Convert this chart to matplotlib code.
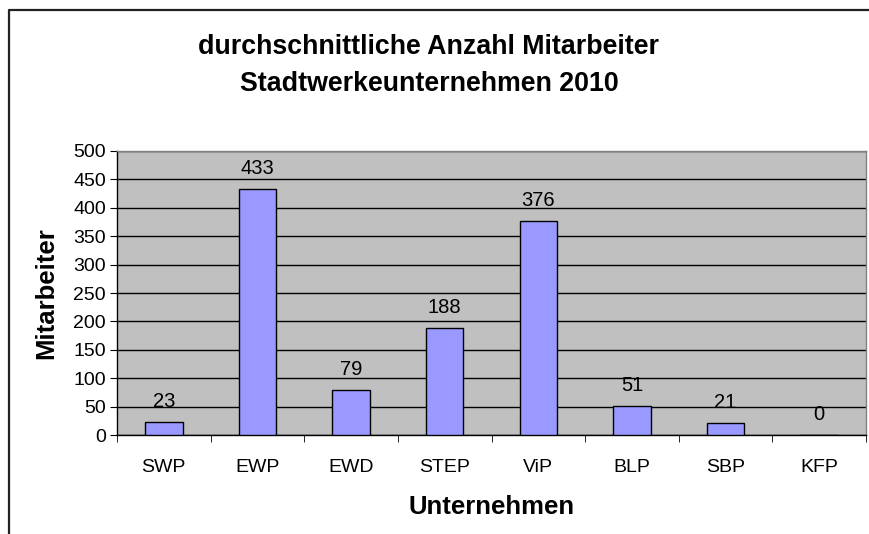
import matplotlib
matplotlib.use("Agg")
import matplotlib.pyplot as plt
from matplotlib.lines import Line2D

categories = ["SWP", "EWP", "EWD", "STEP", "ViP", "BLP", "SBP", "KFP"]
values = [23, 433, 79, 188, 376, 51, 21, 0]
yticks = [0, 50, 100, 150, 200, 250, 300, 350, 400, 450, 500]

W, H = 869, 534
fig = plt.figure(figsize=(W / 100, H / 100), dpi=100)
plt.rcParams['font.family'] = ['Liberation Sans', 'DejaVu Sans']

ax = fig.add_axes([117 / W, 1 - 435 / H, (866 - 117) / W, (435 - 151) / H])
ax.set_facecolor('#C0C0C0')
x = list(range(len(categories)))
ax.bar(x, values, width=0.4, color='#9999FF', edgecolor='black', linewidth=1, zorder=3)
for xi, v in zip(x, values):
    ax.annotate(str(v), (xi, v), xytext=(0, 8), textcoords='offset points',
                ha='center', va='bottom', fontsize=14.5, color='black', zorder=4)

ax.set_xlim(-0.5, len(categories) - 0.5)
ax.set_ylim(0, 500)
ax.set_yticks(yticks)
ax.set_yticklabels([str(t) for t in yticks], fontsize=14)
ax.yaxis.grid(True, color='black', linewidth=1, zorder=0)
ax.set_axisbelow(True)
ax.set_xticks(x)
ax.set_xticklabels(categories, fontsize=14)
ax.tick_params(axis='x', length=0, pad=17)
ax.set_xticks([i - 0.5 for i in range(len(categories) + 1)], minor=True)
ax.tick_params(axis='x', which='minor', length=5, direction='out', color='black')
ax.tick_params(axis='y', length=5, direction='out', color='black', pad=3)

for s in ['top', 'right']:
    ax.spines[s].set_color('#808080')
    ax.spines[s].set_linewidth(1)
for s in ['left', 'bottom']:
    ax.spines[s].set_color('black')
    ax.spines[s].set_linewidth(1)

ax.set_xlabel("Unternehmen", fontsize=18.5, fontweight='bold', labelpad=14)
ax.set_ylabel("Mitarbeiter", fontsize=18.5, fontweight='bold', labelpad=11)

fig.text(429 / W, 1 - 65.5 / H, "durchschnittliche Anzahl Mitarbeiter\nStadtwerkeunternehmen 2010",
         ha='center', va='center', fontsize=19.3, fontweight='bold', linespacing=1.55)

fig.add_artist(Line2D([8.5 / W, 8.5 / W, 1.0], [0.0, 1 - 10 / H, 1 - 10 / H],
                      transform=fig.transFigure, color='#222222', linewidth=1.6))

fig.savefig("out.png", dpi=100)
